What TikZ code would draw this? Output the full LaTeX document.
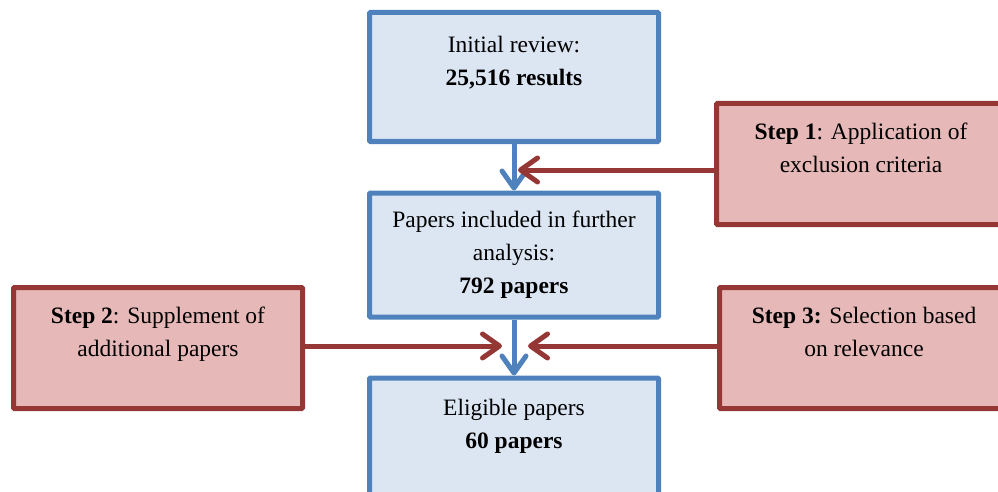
\documentclass[tikz,border=0pt]{standalone}
\usepackage{fontspec}
\setmainfont{Liberation Serif}
\usepackage{xcolor}
\usepackage{tikz}
\usetikzlibrary{positioning,arrows.meta}

\definecolor{boxblue}{HTML}{DCE6F2}
\definecolor{lineblue}{HTML}{4F81BD}
\definecolor{boxred}{HTML}{E6B9B8}
\definecolor{linered}{HTML}{953735}

\begin{document}
\begin{tikzpicture}[x=1pt,y=-1pt,
  stage/.style={draw=lineblue, fill=boxblue, line width=5pt, rounded corners=1pt,
    minimum width=289pt, minimum height=124pt, align=center,
    font=\fontsize{23.5}{33}\selectfont},
  stepbox/.style={stage, draw=linered, fill=boxred, minimum height=121pt},
  flow/.style={lineblue, line width=5pt,
    -{Straight Barb[length=17pt,width=24pt,round]}},
  feed/.style={flow, draw=linered}]
  \useasboundingbox (0,0) rectangle (998,492);
  \clip (0,0) rectangle (998,492);

  % Main stages
  \node[stage, minimum height=129pt] (init) at (514,77)
    {Initial review:\\\textbf{25,516 results}\\\mbox{}};
  \node[stage] (incl) at (514,255)
    {Papers included in further\\analysis:\\\textbf{792 papers}};
  \node[stage] (elig) at (514,440)
    {Eligible papers\\\textbf{60 papers}\\\mbox{}};

  % Steps
  \node[stepbox] (step1) at (861,164)
    {\textbf{Step 1}: Application of\\exclusion criteria\\\mbox{}};
  \node[stepbox] (step2) at (158,348)
    {\textbf{Step 2}: Supplement of\\additional papers\\\mbox{}};
  \node[stepbox] (step3) at (864,348)
    {\textbf{Step 3:} Selection based\\on relevance\\\mbox{}};

  % Arrows
  \draw[flow] (init) -- (incl);
  \draw[flow] (incl) -- (elig);
  \coordinate (j1) at (518,170);
  \coordinate (j2) at (502,346);
  \coordinate (j3) at (528,346);
  \draw[feed] (step1.west |- j1) -- (j1);
  \draw[feed] (step2.east |- j2) -- (j2);
  \draw[feed] (step3.west |- j3) -- (j3);
\end{tikzpicture}
\end{document}
